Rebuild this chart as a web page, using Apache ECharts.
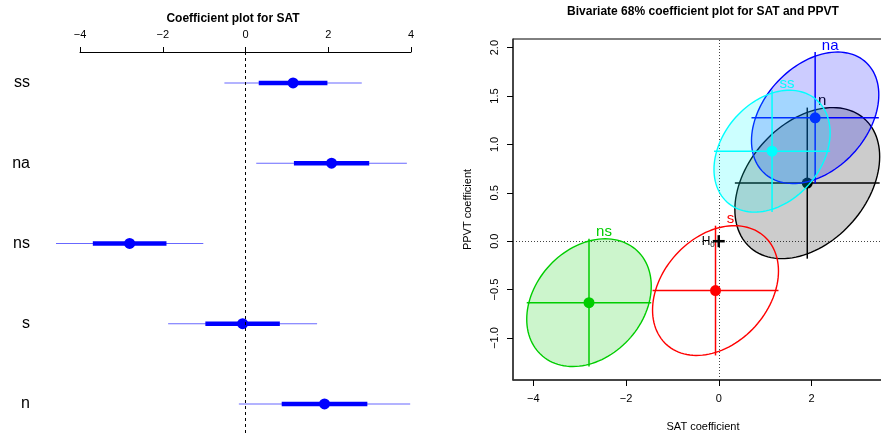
<!DOCTYPE html>
<html>
<head>
<meta charset="utf-8">
<script src="https://cdn.jsdelivr.net/npm/echarts@6/dist/echarts.min.js"></script>
<style>
  html, body { margin: 0; padding: 0; background: #fff; }
  #main { width: 881px; height: 434px; }
</style>
</head>
<body>
<div id="main"></div>
<script>
// coefficient names, top to bottom
var coefNames = ['ss', 'na', 'ns', 's', 'n'];
// SAT estimates and standard errors
var satEst = [1.15, 2.08, -2.80, -0.07, 1.91];
var satSe = [0.83, 0.91, 0.89, 0.90, 1.035];
// PPVT estimates and standard errors
var ppvtEst = [0.93, 1.275, -0.635, -0.51, 0.60];
var ppvtSe = [0.417, 0.45, 0.437, 0.444, 0.517];
// correlation between the two estimates
var estCorr = [0.30, 0.35, 0.26, 0.30, 0.35];
var groupColors = ['#00FFFF', '#0000FF', '#00CD00', '#FF0000', '#000000'];
var groupFills = ['rgba(0,255,255,0.2)', 'rgba(0,0,255,0.2)', 'rgba(0,205,0,0.2)', null, 'rgba(0,0,0,0.2)'];
// tick labels
var satTicks = [-4, -2, 0, 2, 4];
var bivSatTicks = [-4, -2, 0, 2];
var ppvtTicks = [-1, -0.5, 0, 0.5, 1, 1.5, 2];
var rowTicks = [0, 1, 2, 3, 4];
var nullPoint = [0, 0];

var FONT = '"Liberation Sans", Arial, sans-serif';

function minusSign(s){
    return String(s).replace('-', '\u2212');
}

var chartObj = {
    chart: null,
    // 68% bivariate normal radius
    radius: Math.sqrt(-2 * Math.log(1 - 0.68)),
    init: function(){
        this.chart = echarts.init(document.getElementById('main'));
        this.chart.setOption(this.buildOption());
    },
    coefData: function(){
        var rows = [];
        for (var i = 0; i < coefNames.length; i++) {
            rows.push([satEst[i], i, satSe[i]]);
        }
        return rows;
    },
    ellipseData: function(){
        // drawn last-to-first, so ss sits on top
        var rows = [];
        for (var i = coefNames.length - 1; i >= 0; i--) {
            rows.push([satEst[i], ppvtEst[i], satSe[i], ppvtSe[i], estCorr[i], i]);
        }
        return rows;
    },
    renderCoef: function(params, api){
        var est = api.value(0), row = api.value(1), se = api.value(2);
        var t1 = api.coord([est - 2 * se, row]), t2 = api.coord([est + 2 * se, row]);
        var k1 = api.coord([est - se, row]), k2 = api.coord([est + se, row]);
        var c = api.coord([est, row]);
        return {
            type: 'group',
            children: [
                {type: 'line', shape: {x1: t1[0], y1: t1[1], x2: t2[0], y2: t2[1]},
                    style: {stroke: 'rgba(40,40,255,0.7)', lineWidth: 1.2}},
                {type: 'line', shape: {x1: k1[0], y1: k1[1], x2: k2[0], y2: k2[1]},
                    style: {stroke: '#0000FF', lineWidth: 4.5}},
                {type: 'circle', shape: {cx: c[0], cy: c[1], r: 5.5},
                    style: {fill: '#0000FF'}}
            ]
        };
    },
    renderEllipse: function(params, api){
        var r = chartObj.radius;
        var cx = api.value(0), cy = api.value(1);
        var hx = r * api.value(2), hy = r * api.value(3), rho = api.value(4);
        var idx = api.value(5);
        var pts = [];
        for (var k = 0; k < 120; k++) {
            var t = k / 120 * Math.PI * 2;
            pts.push(api.coord([
                cx + hx * Math.cos(t),
                cy + hy * (rho * Math.cos(t) + Math.sqrt(1 - rho * rho) * Math.sin(t))
            ]));
        }
        var color = groupColors[idx];
        var h1 = api.coord([cx - hx, cy]), h2 = api.coord([cx + hx, cy]);
        var v1 = api.coord([cx, cy - hy]), v2 = api.coord([cx, cy + hy]);
        var c = api.coord([cx, cy]);
        return {
            type: 'group',
            children: [
                {type: 'polygon', shape: {points: pts},
                    style: {fill: groupFills[idx] || 'none', stroke: color, lineWidth: 1.4}},
                {type: 'line', shape: {x1: h1[0], y1: h1[1], x2: h2[0], y2: h2[1]},
                    style: {stroke: color, lineWidth: 1.5}},
                {type: 'line', shape: {x1: v1[0], y1: v1[1], x2: v2[0], y2: v2[1]},
                    style: {stroke: color, lineWidth: 1.5}},
                {type: 'circle', shape: {cx: c[0], cy: c[1], r: 5.5},
                    style: {fill: color}},
                {type: 'text', x: v2[0] + 15, y: v2[1] + 1,
                    style: {text: coefNames[idx], fill: color, font: '15px ' + FONT,
                        align: 'center', verticalAlign: 'bottom'}}
            ]
        };
    },
    renderNull: function(params, api){
        var p = api.coord([api.value(0), api.value(1)]);
        return {
            type: 'group',
            children: [
                {type: 'line', shape: {x1: p[0] - 6, y1: p[1], x2: p[0] + 6, y2: p[1]},
                    style: {stroke: '#000', lineWidth: 2.5}},
                {type: 'line', shape: {x1: p[0], y1: p[1] - 6, x2: p[0], y2: p[1] + 6},
                    style: {stroke: '#000', lineWidth: 2.5}},
                {type: 'text', x: p[0] - 4, y: p[1],
                    style: {text: '{a|H}{b|0}', align: 'right', verticalAlign: 'middle',
                        rich: {
                            a: {fontSize: 12, fontFamily: FONT, fill: '#000'},
                            b: {fontSize: 8, fontFamily: FONT, fill: '#000', padding: [8, 0, 0, 0]}
                        }}}
            ]
        };
    },
    buildOption: function(){
        var axisText = {color: '#000', fontSize: 11, fontFamily: FONT};
        return {
            backgroundColor: '#fff',
            animation: false,
            title: [
                {text: 'Coefficient plot for SAT', left: 233, top: 13, textAlign: 'center', padding: 0,
                    textStyle: {fontSize: 12, fontWeight: 'bold', fontFamily: FONT, color: '#000'}},
                {text: 'Bivariate 68% coefficient plot for SAT and PPVT', left: 703, top: 6, textAlign: 'center', padding: 0,
                    textStyle: {fontSize: 12, fontWeight: 'bold', fontFamily: FONT, color: '#000'}}
            ],
            grid: [
                {left: 80, width: 331, top: 52, height: 382, outerBoundsMode: 'none', containLabel: false},
                {left: 513, width: 380, top: 39, height: 341, show: true, outerBoundsMode: 'none', containLabel: false,
                    borderColor: '#000', borderWidth: 1, backgroundColor: 'transparent'}
            ],
            xAxis: [
                {gridIndex: 0, type: 'value', position: 'top', min: -4, max: 4,
                    axisLine: {onZero: false, lineStyle: {color: '#000', width: 1}},
                    axisTick: {length: 5, lineStyle: {color: '#000'}, customValues: satTicks},
                    axisLabel: Object.assign({margin: 12, customValues: satTicks, formatter: minusSign}, axisText),
                    splitLine: {show: false}},
                {gridIndex: 1, type: 'value', min: -4.44, max: 3.76,
                    name: 'SAT coefficient', nameLocation: 'middle', nameGap: 41,
                    nameTextStyle: axisText,
                    axisLine: {onZero: false, lineStyle: {color: '#333', width: 1.5}},
                    axisTick: {length: 6, lineStyle: {color: '#000'}, customValues: bivSatTicks},
                    axisLabel: Object.assign({margin: 13, customValues: bivSatTicks, formatter: minusSign}, axisText),
                    splitLine: {show: false}}
            ],
            yAxis: [
                {gridIndex: 0, type: 'value', inverse: true, min: -0.386, max: 4.374,
                    axisLine: {show: false}, axisTick: {show: false}, splitLine: {show: false},
                    axisLabel: {margin: 50, fontSize: 16, color: '#000', fontFamily: FONT,
                        customValues: rowTicks,
                        formatter: function(v){ return coefNames[Math.round(v)]; }}},
                {gridIndex: 1, type: 'value', min: -1.434, max: 2.089,
                    name: 'PPVT coefficient', nameLocation: 'middle', nameGap: 40, nameRotate: 90,
                    nameTextStyle: axisText,
                    axisLine: {onZero: false, lineStyle: {color: '#333', width: 1.5}},
                    axisTick: {length: 6, lineStyle: {color: '#000'}, customValues: ppvtTicks},
                    axisLabel: Object.assign({margin: 13, rotate: 90, customValues: ppvtTicks,
                        formatter: function(v){ return minusSign(v.toFixed(1)); }}, axisText),
                    splitLine: {show: false}}
            ],
            series: [
                {type: 'custom', xAxisIndex: 0, yAxisIndex: 0, clip: false,
                    data: this.coefData(), encode: {x: 0, y: 1},
                    renderItem: this.renderCoef,
                    markLine: {silent: true, symbol: 'none', label: {show: false},
                        lineStyle: {color: '#000', type: [3, 3], width: 1},
                        data: [{xAxis: 0}]}},
                {type: 'custom', xAxisIndex: 1, yAxisIndex: 1, clip: false,
                    data: this.ellipseData(), encode: {x: 0, y: 1},
                    renderItem: this.renderEllipse,
                    markLine: {silent: true, symbol: 'none', label: {show: false}, z: 1,
                        lineStyle: {color: '#444', type: [1, 2], width: 1},
                        data: [{xAxis: 0}, {yAxis: 0}]}},
                {type: 'custom', xAxisIndex: 1, yAxisIndex: 1, clip: false,
                    data: [nullPoint], encode: {x: 0, y: 1},
                    renderItem: this.renderNull}
            ]
        };
    }
};

chartObj.init();
</script>
</body>
</html>
